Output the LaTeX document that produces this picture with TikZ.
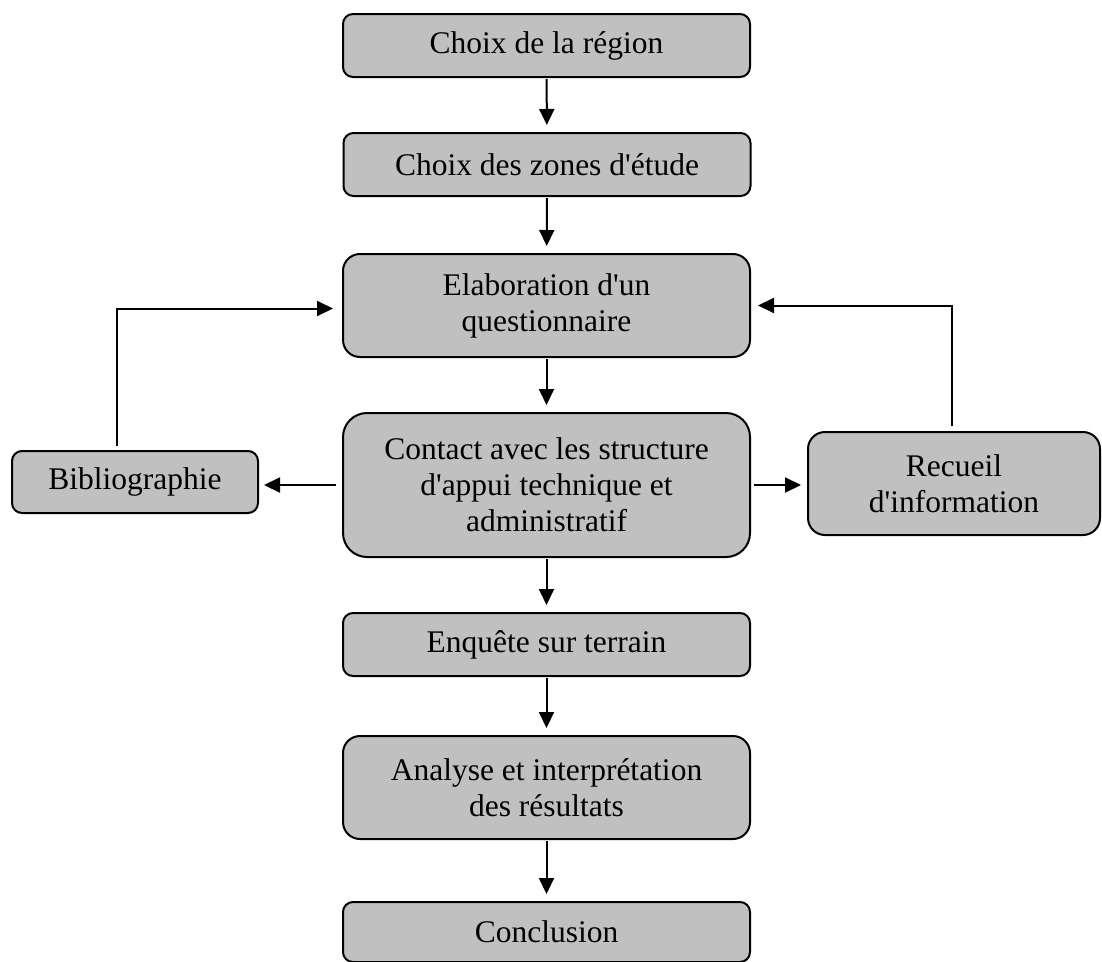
\documentclass[tikz,border=0pt]{standalone}
\usepackage{fontspec}
\setmainfont{Liberation Serif}
\usetikzlibrary{arrows.meta,calc,positioning}
\definecolor{StepInk}{HTML}{000000}
\definecolor{StepFill}{HTML}{C0C0C0}
\newcommand{\apos}{\textquotesingle}
\tikzset{
  every node/.style={font=\fontsize{31.5}{36}\selectfont, text=StepInk},
  stepbox/.style={draw=StepInk, line width=2pt, fill=StepFill, align=center,
    inner sep=0pt, minimum width=407pt, minimum height=63pt, rounded corners=10pt},
  flow/.style={-{Triangle[length=16pt,width=15pt]}, draw=StepInk, line width=2pt},
  down/.style={flow, shorten >=7pt, shorten <=1pt},
}

\begin{document}
\begin{tikzpicture}[x=1pt,y=-1pt]
  \useasboundingbox (0,0) rectangle (1102,961);

  % Main column of steps
  \node[stepbox] (region) at (546.5,45.5) {Choix de la région};
  \node[stepbox] (zones) at (547,164.5) {Choix des zones d\apos étude};
  \node[stepbox, minimum height=103pt, rounded corners=17pt] (quest) at (546.5,305.5) {Elaboration d\apos un\\questionnaire};
  \node[stepbox, minimum height=144pt, rounded corners=24pt] (contact) at (546.5,485) {Contact avec les structure\\d\apos appui technique et\\administratif};
  \node[stepbox] (enquete) at (546.5,644.5) {Enquête sur terrain};
  \node[stepbox, minimum height=103pt, rounded corners=17pt] (analyse) at (546.5,787.5) {Analyse et interprétation\\des résultats};
  \node[stepbox, minimum height=60pt] (conclu) at (546.5,932) {Conclusion};

  % Side boxes
  \node[stepbox, minimum width=246pt, minimum height=62pt] (biblio) at (135,482) {Bibliographie};
  \node[stepbox, minimum width=292pt, minimum height=103pt, rounded corners=17pt] (recueil) at (954,483.5) {Recueil\\d\apos information};

  % Arrows down the column
  \draw[down] (region) -- (zones);
  \draw[down] (zones) -- (quest);
  \draw[down] (quest) -- (contact);
  \draw[down] (contact) -- (enquete);
  \draw[down] (enquete) -- (analyse);
  \draw[down] (analyse) -- (conclu);

  % Arrows out to the side boxes
  \draw[flow, shorten <=6pt, shorten >=5pt] (contact.west) -- (contact.west -| biblio.east);
  \draw[flow, shorten <=3pt, shorten >=6pt] (contact.east) -- (contact.east -| recueil.west);

  % Feedback to the questionnaire
  \draw[flow, shorten <=4pt, shorten >=9pt] ([xshift=-18pt]biblio.north) |- ([yshift=-3pt]quest.west);
  \draw[flow, shorten <=5pt, shorten >=7pt] ([xshift=-2pt]recueil.north) |- (quest.east);
\end{tikzpicture}
\end{document}
